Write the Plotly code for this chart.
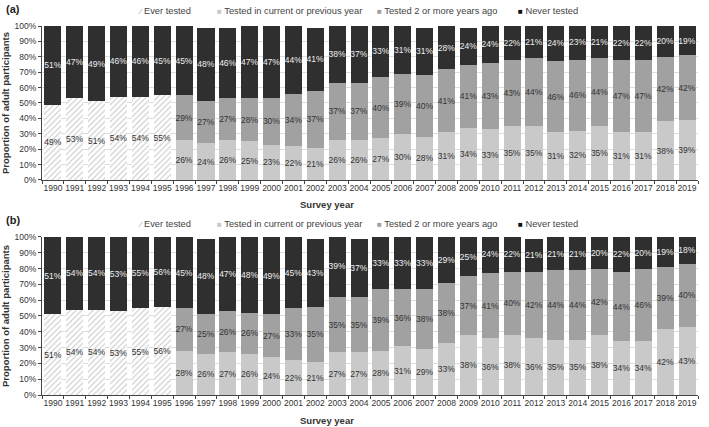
import plotly.graph_objects as go

years = [str(y) for y in range(1990, 2020)]

# Panel (a)
ever_a = [49, 53, 51, 54, 54, 55] + [None] * 24
recent_a = [None] * 6 + [26, 24, 26, 25, 23, 22, 21, 26, 26, 27, 30, 28, 31, 34, 33, 35, 35, 31, 32, 35, 31, 31, 38, 39]
older_a = [None] * 6 + [29, 27, 27, 28, 30, 34, 37, 37, 37, 40, 39, 40, 41, 41, 43, 43, 44, 46, 46, 44, 47, 47, 42, 42]
never_a = [51, 47, 49, 46, 46, 45, 45, 48, 46, 47, 47, 44, 41, 38, 37, 33, 31, 31, 28, 24, 24, 22, 21, 24, 23, 21, 22, 22, 20, 19]

# Panel (b)
ever_b = [51, 54, 54, 53, 55, 56] + [None] * 24
recent_b = [None] * 6 + [28, 26, 27, 26, 24, 22, 21, 27, 27, 28, 31, 29, 33, 38, 36, 38, 36, 35, 35, 38, 34, 34, 42, 43]
older_b = [None] * 6 + [27, 25, 26, 26, 27, 33, 35, 35, 35, 39, 36, 38, 38, 37, 41, 40, 42, 44, 44, 42, 44, 46, 39, 40]
never_b = [49, 46, 46, 47, 45, 44, 45, 48, 47, 48, 49, 45, 43, 39, 37, 33, 33, 33, 29, 25, 24, 22, 21, 21, 21, 20, 22, 20, 19, 18]
# labels as printed in the original figure
never_b_labels = [51, 54, 54, 53, 55, 56, 45, 48, 47, 48, 49, 45, 43, 39, 37, 33, 33, 33, 29, 25, 24, 22, 21, 21, 21, 20, 22, 20, 19, 18]

series_names = ["Ever tested", "Tested in current or previous year", "Tested 2 or more years ago", "Never tested"]

FONT = "Liberation Sans, Arial, sans-serif"
C_RECENT = "#c9c9c9"
C_OLDER = "#a1a1a1"
C_NEVER = "#2f2f2f"


def lab(vals):
    return [("" if v is None else f"{v}%") for v in vals]


fig = go.Figure()

panels = [
    ("x", "y", ever_a, recent_a, older_a, never_a, never_a),
    ("x2", "y2", ever_b, recent_b, older_b, never_b, never_b_labels),
]

for xa, ya, ever, recent, older, never, never_lab in panels:
    common = dict(x=years, xaxis=xa, yaxis=ya, textposition="inside",
                  insidetextanchor="middle", constraintext="none", textangle=0,
                  marker_line_width=0, showlegend=False)
    fig.add_trace(go.Bar(y=ever, name=series_names[0], text=lab(ever),
                         textfont=dict(color="#333333", size=8.5, family=FONT),
                         marker=dict(color="white",
                                     pattern=dict(shape="/", fgcolor="#8c8c8c", bgcolor="white",
                                                  size=4, solidity=0.25)),
                         **common))
    fig.add_trace(go.Bar(y=recent, name=series_names[1], text=lab(recent),
                         textfont=dict(color="#333333", size=8.5, family=FONT),
                         marker=dict(color=C_RECENT), **common))
    fig.add_trace(go.Bar(y=older, name=series_names[2], text=lab(older),
                         textfont=dict(color="#333333", size=8.5, family=FONT),
                         marker=dict(color=C_OLDER), **common))
    fig.add_trace(go.Bar(y=never, name=series_names[3], text=lab(never_lab),
                         textfont=dict(color="#eeeeee", size=8.5, family=FONT),
                         marker=dict(color=C_NEVER), **common))

xcommon = dict(type="category", showline=True, linecolor="#444444", linewidth=1,
               ticks="outside", tickson="boundaries", ticklen=3, tickcolor="#444444",
               tickangle=0,
               tickfont=dict(size=8.5, color="#333333", family=FONT), showgrid=False)
ycommon = dict(range=[0, 100], dtick=10, ticksuffix="%", showline=True, linecolor="#444444",
               linewidth=1, ticks="outside", ticklen=3, tickcolor="#444444",
               tickfont=dict(size=8.5, color="#333333", family=FONT),
               showgrid=True, gridcolor="#dddddd", gridwidth=1, zeroline=False,
               title=dict(text="<b>Proportion of adult participants</b>",
                          font=dict(size=9.5, color="#333333", family=FONT), standoff=6))

fig.update_layout(
    width=709, height=427,
    margin=dict(l=42, r=11, t=26, b=32, autoexpand=False),
    paper_bgcolor="white", plot_bgcolor="white",
    barmode="stack", bargap=0.22,
    font=dict(family=FONT, color="#333333"),
    xaxis=dict(domain=[0, 1], anchor="y", **xcommon),
    yaxis=dict(domain=[0.5827, 1], anchor="x", **ycommon),
    xaxis2=dict(domain=[0, 1], anchor="y2", **xcommon),
    yaxis2=dict(domain=[0, 0.4282], anchor="x2", **ycommon),
    showlegend=False,
)

# custom legends (one per panel)
leg_x = [0.1433, 0.2637, 0.5076, 0.7226]
leg_icons = [("⁄", "#a0a0a0"), ("■", C_RECENT), ("■", C_OLDER), ("■", "#111111")]
for ly in (1.041, 0.4625):
    for lx, (ic, col), name in zip(leg_x, leg_icons, series_names):
        fig.add_annotation(
            text=f"<span style='color:{col};font-size:8px'>{ic}</span> {name}",
            xref="paper", yref="paper", x=lx, y=ly, showarrow=False,
            xanchor="left", yanchor="middle",
            font=dict(size=9.3, color="#444444", family=FONT))

ann_font = dict(size=9.5, color="#333333", family=FONT)
fig.add_annotation(text="<b>Survey year</b>", xref="paper", yref="paper", x=0.434, y=0.515,
                   showarrow=False, font=ann_font, xanchor="center", yanchor="middle")
fig.add_annotation(text="<b>Survey year</b>", xref="paper", yref="paper", x=0.434, y=-0.068,
                   showarrow=False, font=ann_font, xanchor="center", yanchor="middle")
fig.add_annotation(text="<b>(a)</b>", xref="paper", yref="paper", x=-0.058, y=1.045,
                   showarrow=False, font=dict(size=11, color="#222222", family=FONT),
                   xanchor="left", yanchor="middle")
fig.add_annotation(text="<b>(b)</b>", xref="paper", yref="paper", x=-0.058, y=0.475,
                   showarrow=False, font=dict(size=11, color="#222222", family=FONT),
                   xanchor="left", yanchor="middle")

fig.write_html("out.html", config={"displayModeBar": False},
               post_script="document.body.style.margin='0';")
